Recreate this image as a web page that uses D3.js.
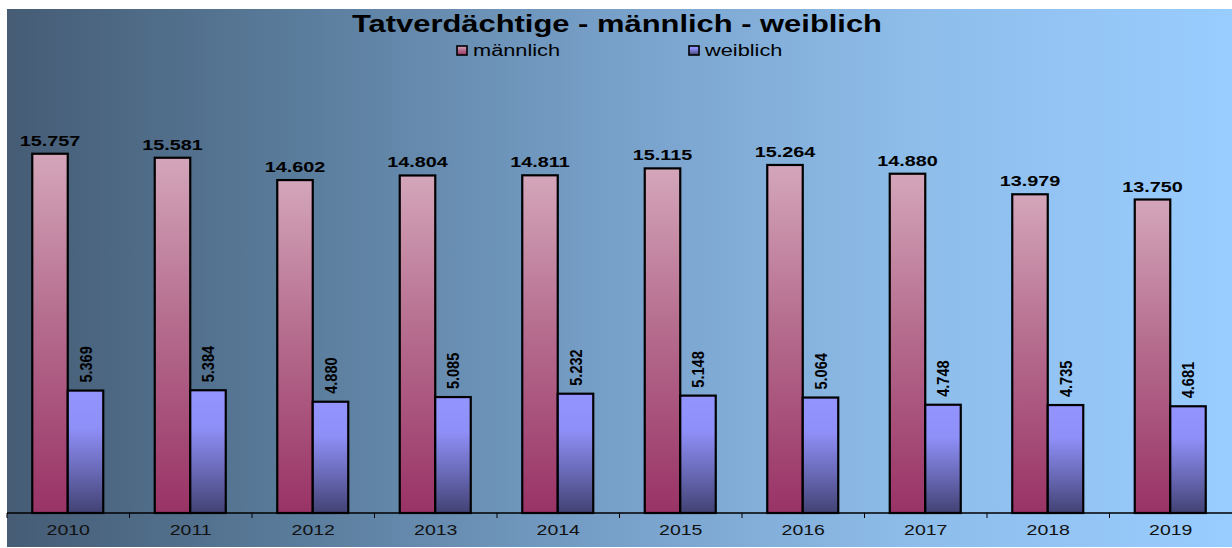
<!DOCTYPE html>
<html>
<head>
<meta charset="utf-8">
<script src="https://d3js.org/d3.v7.min.js"></script>
<style>
  html, body { margin: 0; padding: 0; background: #fff; }
  text { font-family: Arial, "Liberation Sans", sans-serif; }
</style>
</head>
<body>
<svg id="chart" width="1232" height="548"></svg>
<script>
// data
const years = ["2010", "2011", "2012", "2013", "2014", "2015", "2016", "2017", "2018", "2019"];
const maennlich = [15757, 15581, 14602, 14804, 14811, 15115, 15264, 14880, 13979, 13750];
const weiblich = [5369, 5384, 4880, 5085, 5232, 5148, 5064, 4748, 4735, 4681];
const seriesNames = ["männlich", "weiblich"];
const titleText = "Tatverdächtige - männlich - weiblich";

const svg = d3.select("#chart");
const W = 1232, H = 548;
const panel = {x: 7, y: 9};
const plot = {left: 7, right: 1232, top: 57, bottom: 513};

const fmt = v => d3.format(",")(v).replace(/,/g, ".");

// stretch text horizontally like the original (wide glyphs)
function stretch(sel, k) {
  sel.each(function() {
    const w = this.getComputedTextLength();
    d3.select(this).attr("textLength", w * k).attr("lengthAdjust", "spacingAndGlyphs");
  });
}

const defs = svg.append("defs");
const bg = defs.append("linearGradient").attr("id", "bg").attr("x1", 0).attr("x2", 1).attr("y1", 0).attr("y2", 0);
[[0, "#465c75"], [0.2, "#567795"], [0.5, "#78a1ca"], [0.73, "#8dbce8"], [1, "#99ccff"]]
  .forEach(s => bg.append("stop").attr("offset", s[0]).attr("stop-color", s[1]));

const gm = defs.append("linearGradient").attr("id", "gm").attr("x1", 0).attr("x2", 0).attr("y1", 0).attr("y2", 1);
[[0, "#d4a6ba"], [0.45, "#b66e8f"], [1, "#993366"]]
  .forEach(s => gm.append("stop").attr("offset", s[0]).attr("stop-color", s[1]));

const gw = defs.append("linearGradient").attr("id", "gw").attr("x1", 0).attr("x2", 0).attr("y1", 0).attr("y2", 1);
[[0, "#9494ff"], [0.3, "#8f8ff8"], [0.65, "#6a6ab8"], [1, "#424274"]]
  .forEach(s => gw.append("stop").attr("offset", s[0]).attr("stop-color", s[1]));

// background panel
svg.append("rect")
  .attr("x", panel.x).attr("y", panel.y)
  .attr("width", W - panel.x).attr("height", H - panel.y - 1)
  .attr("fill", "url(#bg)");

// scales
const x = d3.scaleBand().domain(years).range([plot.left, plot.right]).paddingInner(0).paddingOuter(0);
const y = d3.scaleLinear().domain([0, 20000]).range([plot.bottom, plot.top]);
const inner = d3.scaleBand().domain(seriesNames)
  .range([x.bandwidth() / 2 - 36, x.bandwidth() / 2 + 35]);

const rows = years.map((yr, i) => ({year: yr, m: maennlich[i], w: weiblich[i]}));

const groups = svg.append("g").selectAll("g")
  .data(rows).enter().append("g")
  .attr("transform", d => `translate(${x(d.year)},0)`);

// männlich bars
groups.append("rect")
  .attr("x", inner("männlich"))
  .attr("y", d => y(d.m))
  .attr("width", inner.bandwidth())
  .attr("height", d => y(0) - y(d.m))
  .attr("fill", "url(#gm)")
  .attr("stroke", "#000").attr("stroke-width", 2.2);

// weiblich bars
groups.append("rect")
  .attr("x", inner("weiblich"))
  .attr("y", d => y(d.w))
  .attr("width", inner.bandwidth())
  .attr("height", d => y(0) - y(d.w))
  .attr("fill", "url(#gw)")
  .attr("stroke", "#000").attr("stroke-width", 2.2);

// value labels männlich
groups.append("text")
  .attr("x", inner("männlich") + inner.bandwidth() / 2)
  .attr("y", d => y(d.m) - 8)
  .attr("text-anchor", "middle")
  .attr("font-size", "15px").attr("font-weight", "bold").attr("fill", "#000")
  .text(d => fmt(d.m))
  .call(stretch, 1.32);

// value labels weiblich (rotated)
groups.append("text")
  .attr("transform", d => `translate(${inner("weiblich") + inner.bandwidth() / 2 + 6},${y(d.w) - 8}) rotate(-90)`)
  .attr("text-anchor", "start")
  .attr("font-size", "16.5px").attr("font-weight", "bold").attr("fill", "#000")
  .text(d => fmt(d.w))
  .call(stretch, 0.88);

// x axis
const xAxis = svg.append("g")
  .attr("transform", `translate(0,${plot.bottom})`);
xAxis.append("line")
  .attr("x1", plot.left).attr("x2", plot.right)
  .attr("stroke", "#000").attr("stroke-width", 1.5);
xAxis.selectAll("line.tick")
  .data(years).enter().append("line")
  .attr("class", "tick")
  .attr("x1", d => x(d)).attr("x2", d => x(d))
  .attr("y1", 0).attr("y2", 5)
  .attr("stroke", "#000").attr("stroke-width", 1);
xAxis.selectAll("text")
  .data(years).enter().append("text")
  .attr("x", d => x(d) + x.bandwidth() / 2)
  .attr("y", 22)
  .attr("text-anchor", "middle")
  .attr("font-size", "15px").attr("fill", "#111")
  .text(d => d)
  .call(stretch, 1.3);

// title
svg.append("text")
  .attr("x", 617).attr("y", 32)
  .attr("text-anchor", "middle")
  .attr("font-size", "23px").attr("font-weight", "bold").attr("fill", "#000")
  .text(titleText)
  .attr("textLength", 530).attr("lengthAdjust", "spacingAndGlyphs");

// legend
const legend = svg.append("g");
const legendPos = [457, 689];
const legendFill = ["url(#gm)", "url(#gw)"];
seriesNames.forEach((s, i) => {
  legend.append("rect")
    .attr("x", legendPos[i]).attr("y", 46)
    .attr("width", 10).attr("height", 9)
    .attr("fill", legendFill[i]).attr("stroke", "#000").attr("stroke-width", 1.6);
  legend.append("text")
    .attr("x", legendPos[i] + 16).attr("y", 56)
    .attr("font-size", "16px").attr("fill", "#000")
    .text(s)
    .call(stretch, 1.36);
});
</script>
</body>
</html>
